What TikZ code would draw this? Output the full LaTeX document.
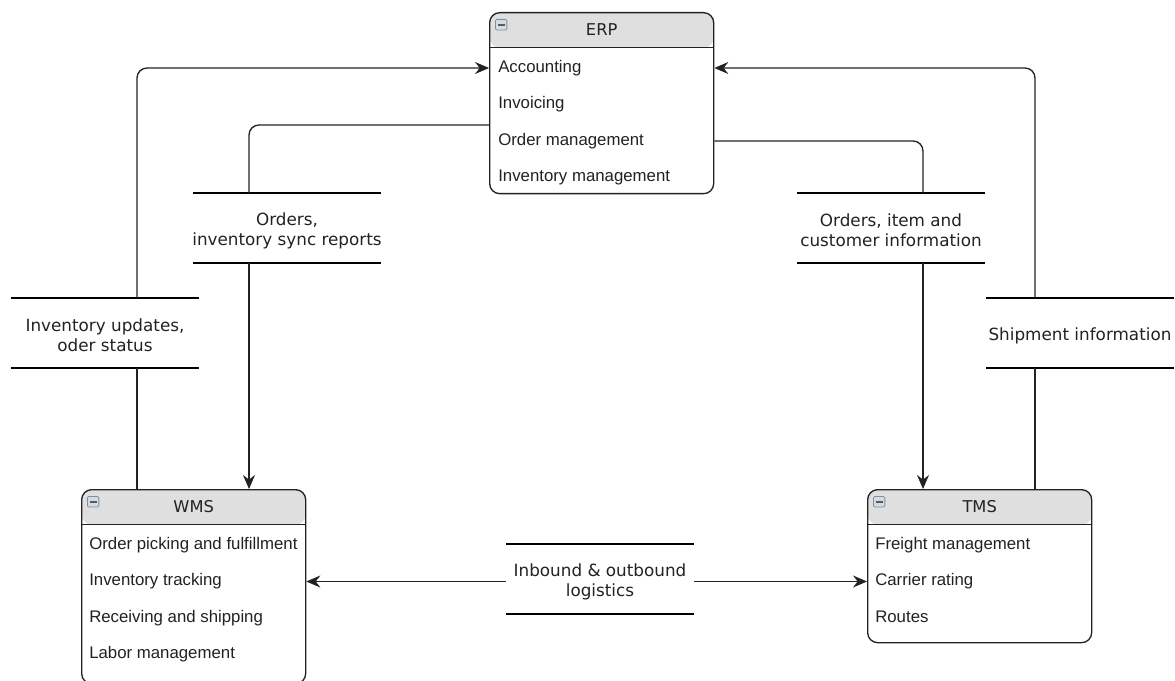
\documentclass[tikz,border=0pt]{standalone}
\usepackage{fontspec}
\setmainfont{Liberation Sans}
\newfontfamily\storefont{DejaVu Sans}
\usetikzlibrary{arrows.meta}
\definecolor{headgray}{HTML}{DFDFDF}
\definecolor{inkgray}{HTML}{222222}
\definecolor{iconblue}{HTML}{7F8FA3}
\definecolor{iconfill}{HTML}{D5DBE3}
\newlength{\ErdHeadHeight}
\setlength{\ErdHeadHeight}{26.25pt}
\tikzset{/erd/entity/.style={
	shape=rectangle, draw=inkgray, line width=1pt, rounded corners=7.5pt, minimum width=168pt, inner sep=0pt, fill=white,
	path picture={\fill[headgray] (path picture bounding box.north west) rectangle ([yshift=-\ErdHeadHeight]path picture bounding box.north east);
		\draw[inkgray, line width=1pt] ([yshift=-\ErdHeadHeight]path picture bounding box.north west) -- ([yshift=-\ErdHeadHeight]path picture bounding box.north east);}
}}
\tikzset{/erd/title/.style={inner sep=0pt, text=inkgray, font=\storefont\fontsize{12.2}{14}\selectfont}}
\tikzset{/erd/attr/.style={anchor=west, inner sep=0pt, text height=9pt, text depth=2.6pt, text=inkgray, font=\fontsize{12.6}{15}\selectfont}}
\tikzset{/erd/icon/.style={
	shape=rectangle, draw=iconblue, fill=iconfill, rounded corners=1pt, line width=0.6pt, minimum width=8.6pt, minimum height=8pt, inner sep=0pt, anchor=north west,
	path picture={\draw[black!65, line width=1.3pt] ([xshift=1.6pt]path picture bounding box.west) -- ([xshift=-1.6pt]path picture bounding box.east);}
}}
\tikzset{/dfd/store/.style={shape=rectangle, minimum width=141pt, inner sep=0pt, align=center, text=inkgray, font=\storefont\fontsize{12.6}{15}\selectfont}}
\tikzset{/dfd/storeline/.style={draw=black, line width=2pt}}
\tikzset{/dfd/flow/.style={draw=inkgray, line width=1pt, rounded corners=7.5pt}}
\tikzset{/dfd/arrow/.style={/dfd/flow, -{Stealth[length=10.5pt, width=9pt, inset=3.5pt]}}}

\begin{document}
\begin{tikzpicture}[x=0.75pt, y=-0.75pt]
	\useasboundingbox (0,0) rectangle (1175,681);
	% systems
	\path (489,12) node[/erd/entity, anchor=north west, minimum height=135.75pt] (erp) {};
	\path (81,489) node[/erd/entity, anchor=north west, minimum height=145.5pt] (wms) {};
	\path (867,489) node[/erd/entity, anchor=north west, minimum height=114.75pt] (tms) {};
	\foreach \sys/\name in {erp/ERP, wms/WMS, tms/TMS} {
		\path (\sys.north) ++(0,17.5) node[/erd/title] (\sys T) {\name};
		\path (\sys.north west) ++(6,7) node[/erd/icon] (\sys I) {};
	}
	\foreach \txt [count=\i] in {Accounting, Invoicing, Order management, Inventory management}
		\path (erp.north west) ++(9,{19.5+36.5*\i}) node[/erd/attr] (erp\i) {\txt};
	\foreach \txt [count=\i] in {Order picking and fulfillment, Inventory tracking, Receiving and shipping, Labor management}
		\path (wms.north west) ++(8,{19.5+36.5*\i}) node[/erd/attr] (wms\i) {\txt};
	\foreach \txt [count=\i] in {Freight management, Carrier rating, Routes}
		\path (tms.north west) ++(8,{19.5+36.5*\i}) node[/erd/attr] (tms\i) {\txt};

	% data stores
	\path (287,230.5) node[/dfd/store] (sync) {Orders,\\inventory sync reports};
	\path (891,230.5) node[/dfd/store] (custinfo) {Orders, item and\\customer information};
	\path (105,335.5) node[/dfd/store] (invupd) {Inventory updates,\\oder status};
	\path (1080,335.5) node[/dfd/store] (shipinfo) {Shipment information};
	\path (600,581.5) node[/dfd/store] (logi) {Inbound \& outbound\\logistics};
	\foreach \s in {sync, custinfo, invupd, shipinfo, logi}
		\draw[/dfd/storeline] (\s.center) ++(-94,-37.5) coordinate (\s-n) -- ++(188,0)
			(\s.center) ++(-94,32.5) coordinate (\s-s) -- ++(188,0);

	% flows
	\path (wms.north west) ++(56,0) coordinate (wmsL) ++(112,0) coordinate (wmsR);
	\path (tms.north west) ++(56,0) coordinate (tmsL) ++(112,0) coordinate (tmsR);
	\path (erp.north west) ++(0,113) coordinate (erpIn);
	\draw[/dfd/flow] (wmsL) -- (wmsL |- invupd-s);
	\draw[/dfd/arrow] (wmsL |- invupd-n) |- (erp.west |- erp1);
	\draw[/dfd/flow] (erpIn) -| (wmsR |- sync-n);
	\draw[/dfd/arrow] (wmsR |- sync-s) -- (wmsR);
	\draw[/dfd/flow] (erp.east |- erp3) -| (tmsL |- custinfo-n);
	\draw[/dfd/arrow] (tmsL |- custinfo-s) -- (tmsL);
	\draw[/dfd/flow] (tmsR) -- (tmsR |- shipinfo-s);
	\draw[/dfd/arrow] (tmsR |- shipinfo-n) |- (erp.east |- erp1);
	\draw[/dfd/arrow] (logi.west |- wms2) -- (wms.east |- wms2);
	\draw[/dfd/arrow] (logi.east |- wms2) -- (tms.west |- wms2);
\end{tikzpicture}
\end{document}
